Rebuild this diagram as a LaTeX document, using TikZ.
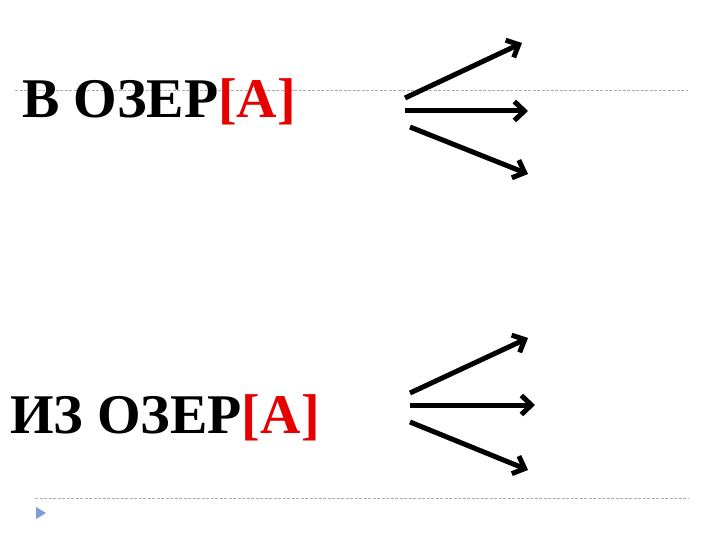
\documentclass[tikz,border=0pt]{standalone}
\usepackage{fontspec}
\setmainfont{Liberation Serif}
\usetikzlibrary{arrows.meta}
\definecolor{guidegray}{RGB}{170,174,182}
\definecolor{markerblue}{RGB}{120,160,210}
\definecolor{letterred}{RGB}{230,0,0}
\newcommand{\wordfont}{\fontsize{56}{60}\selectfont\bfseries}
\begin{document}
\begin{tikzpicture}
[x=1pt,y=-1pt,
  worddecorate/.style={anchor=base west,inner sep=0pt,font=\wordfont},%
  arrowdecorate/.style={-{Straight Barb[length=10pt,width=19pt]},line width=5pt},%
  guidedecorate/.style={guidegray,dash pattern=on 3pt off 1.5pt,line width=1pt}]
\useasboundingbox (0,0) rectangle (720,540);
%% guide lines and marker
\coordinate (g1s) at (15,91);
\coordinate (g1e) at (688,91);
\coordinate (g2s) at (35,498);
\coordinate (g2e) at (688,498);
\draw[guidedecorate] (g1s) -- (g1e);
\draw[guidedecorate] (g2s) -- (g2e);
\fill[markerblue] (36,507) -- (46,513) -- (36,519) -- cycle;
%% words
\node (top) at (22,118) [worddecorate] {В ОЗЕР\textcolor{letterred}{[А]}};
\node (bottom) at (10,433) [worddecorate] {ИЗ ОЗЕР\textcolor{letterred}{[А]}};
%% arrows
\foreach \name/\x/\y in {a1s/405/98, a1e/522/43, a2s/405/111, a2e/528/111,
  a3s/410/127, a3e/528/174, b1s/410/393, b1e/528/338, b2s/410/405,
  b2e/535/405, b3s/410/422, b3e/528/470} {
  \coordinate (\name) at (\x,\y);
}
\foreach \startnode/\endnode in {a1s/a1e, a2s/a2e, a3s/a3e,
  b1s/b1e, b2s/b2e, b3s/b3e} {
  \draw[arrowdecorate] (\startnode) -- (\endnode);
}
\end{tikzpicture}
\end{document}
